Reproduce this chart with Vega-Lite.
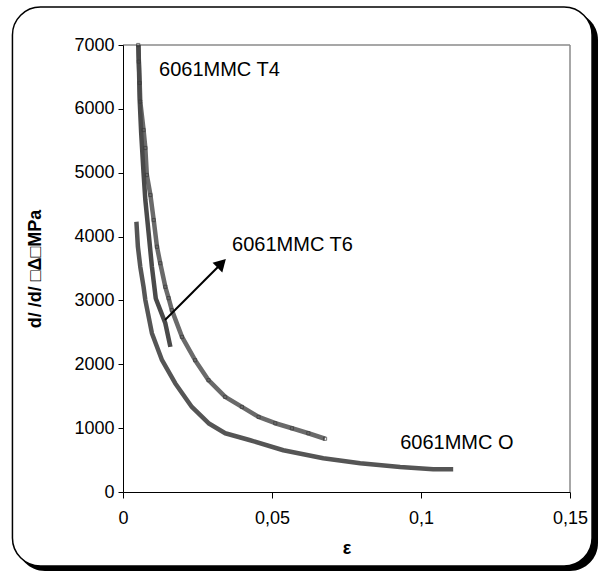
{
  "$schema": "https://vega.github.io/schema/vega-lite/v6.json",
  "width": 447,
  "height": 447,
  "autosize": "none",
  "padding": {"left": 123, "top": 45, "right": 32, "bottom": 80},
  "background": "white",
  "config": {
    "view": {"stroke": null},
    "axis": {
      "grid": false, "domainColor": "black", "tickColor": "black",
      "labelFont": "Liberation Sans", "labelFontSize": 18, "labelColor": "black",
      "titleFont": "Liberation Sans", "titleFontSize": 18, "titleFontWeight": "bold", "titleColor": "black"
    },
    "axisX": {"tickCount": 3, "tickSize": 6, "labelPadding": 11, "titlePadding": 12, "labelFlush": false, "labelExpr": "replace(toString(datum.value), '.', ',')"},
    "axisY": {"tickCount": 7, "tickSize": 5, "labelPadding": 4, "titlePadding": 29, "format": "d"}
  },
  "datasets": {
    "curves": [
      {"series": "6061MMC T4", "eps": 0.0051, "val": 7000},
      {"series": "6061MMC T4", "eps": 0.0053, "val": 6740},
      {"series": "6061MMC T4", "eps": 0.0056, "val": 6406},
      {"series": "6061MMC T4", "eps": 0.0058, "val": 6113},
      {"series": "6061MMC T4", "eps": 0.0069, "val": 5669},
      {"series": "6061MMC T4", "eps": 0.0075, "val": 5387},
      {"series": "6061MMC T4", "eps": 0.0080, "val": 4964},
      {"series": "6061MMC T4", "eps": 0.0092, "val": 4651},
      {"series": "6061MMC T4", "eps": 0.0103, "val": 4259},
      {"series": "6061MMC T4", "eps": 0.0114, "val": 3840},
      {"series": "6061MMC T4", "eps": 0.0125, "val": 3583},
      {"series": "6061MMC T4", "eps": 0.0142, "val": 3213},
      {"series": "6061MMC T4", "eps": 0.0153, "val": 3036},
      {"series": "6061MMC T4", "eps": 0.0164, "val": 2848},
      {"series": "6061MMC T4", "eps": 0.0198, "val": 2429},
      {"series": "6061MMC T4", "eps": 0.0242, "val": 2064},
      {"series": "6061MMC T4", "eps": 0.0287, "val": 1751},
      {"series": "6061MMC T4", "eps": 0.0343, "val": 1489},
      {"series": "6061MMC T4", "eps": 0.0399, "val": 1332},
      {"series": "6061MMC T4", "eps": 0.0455, "val": 1176},
      {"series": "6061MMC T4", "eps": 0.0511, "val": 1077},
      {"series": "6061MMC T4", "eps": 0.0567, "val": 998},
      {"series": "6061MMC T4", "eps": 0.0622, "val": 920},
      {"series": "6061MMC T4", "eps": 0.0678, "val": 834},
      {"series": "6061MMC T6", "eps": 0.0052, "val": 7000},
      {"series": "6061MMC T6", "eps": 0.0056, "val": 6140},
      {"series": "6061MMC T6", "eps": 0.0061, "val": 5622},
      {"series": "6061MMC T6", "eps": 0.0069, "val": 4995},
      {"series": "6061MMC T6", "eps": 0.0075, "val": 4572},
      {"series": "6061MMC T6", "eps": 0.0086, "val": 4055},
      {"series": "6061MMC T6", "eps": 0.0097, "val": 3527},
      {"series": "6061MMC T6", "eps": 0.0110, "val": 3030},
      {"series": "6061MMC T6", "eps": 0.0142, "val": 2644},
      {"series": "6061MMC T6", "eps": 0.0159, "val": 2273},
      {"series": "6061MMC O", "eps": 0.0045, "val": 4232},
      {"series": "6061MMC O", "eps": 0.0050, "val": 3840},
      {"series": "6061MMC O", "eps": 0.0058, "val": 3527},
      {"series": "6061MMC O", "eps": 0.0069, "val": 3213},
      {"series": "6061MMC O", "eps": 0.0075, "val": 3005},
      {"series": "6061MMC O", "eps": 0.0097, "val": 2487},
      {"series": "6061MMC O", "eps": 0.0131, "val": 2064},
      {"series": "6061MMC O", "eps": 0.0175, "val": 1704},
      {"series": "6061MMC O", "eps": 0.0231, "val": 1332},
      {"series": "6061MMC O", "eps": 0.0287, "val": 1077},
      {"series": "6061MMC O", "eps": 0.0343, "val": 920},
      {"series": "6061MMC O", "eps": 0.0427, "val": 810},
      {"series": "6061MMC O", "eps": 0.0538, "val": 654},
      {"series": "6061MMC O", "eps": 0.0672, "val": 528},
      {"series": "6061MMC O", "eps": 0.0796, "val": 450},
      {"series": "6061MMC O", "eps": 0.0930, "val": 392},
      {"series": "6061MMC O", "eps": 0.1041, "val": 356},
      {"series": "6061MMC O", "eps": 0.1108, "val": 356}
    ],
    "labels": [
      {"label": "6061MMC T4", "eps": 0.0121, "val": 6608},
      {"label": "6061MMC T6", "eps": 0.0366, "val": 3868},
      {"label": "6061MMC O", "eps": 0.093, "val": 767}
    ]
  },
  "layer": [
    {
      "data": {"values": [{}]},
      "mark": {"type": "rect", "fill": "black", "cornerRadius": 28},
      "encoding": {
        "x": {"datum": -0.0356, "type": "quantitative", "title": "ε", "scale": {"domain": [0, 0.15], "nice": false, "zero": false}, "axis": {"zindex": 1}},
        "x2": {"datum": 0.1594},
        "y": {"datum": 7517, "type": "quantitative", "title": "d/ /d/ □Δ□MPa", "scale": {"domain": [0, 7000], "nice": false, "zero": false}, "axis": {"zindex": 1}},
        "y2": {"datum": -1237}
      }
    },
    {
      "data": {"values": [{}]},
      "mark": {"type": "rect", "fill": "white", "stroke": "black", "strokeWidth": 1.5, "cornerRadius": 28},
      "encoding": {
        "x": {"datum": -0.0371, "type": "quantitative", "title": "ε", "axis": {"zindex": 1}},
        "x2": {"datum": 0.1574},
        "y": {"datum": 7595, "type": "quantitative", "title": "d/ /d/ □Δ□MPa", "axis": {"zindex": 1}},
        "y2": {"datum": -1159}
      }
    },
    {
      "data": {"values": [{}]},
      "mark": {"type": "rule", "color": "#8a8a8a", "strokeWidth": 1.5},
      "encoding": {
        "x": {"datum": 0, "type": "quantitative", "title": "ε", "axis": {"zindex": 1}},
        "x2": {"datum": 0.15},
        "y": {"datum": 7000, "type": "quantitative", "title": "d/ /d/ □Δ□MPa", "axis": {"zindex": 1}}
      }
    },
    {
      "data": {"values": [{}]},
      "mark": {"type": "rule", "color": "#8a8a8a", "strokeWidth": 1.5},
      "encoding": {
        "x": {"datum": 0.15, "type": "quantitative", "title": "ε", "axis": {"zindex": 1}},
        "y": {"datum": 0, "type": "quantitative", "title": "d/ /d/ □Δ□MPa", "axis": {"zindex": 1}},
        "y2": {"datum": 7000}
      }
    },
    {
      "data": {"name": "curves"},
      "mark": {"type": "line", "strokeWidth": 4.5, "strokeJoin": "round"},
      "encoding": {
        "x": {"field": "eps", "type": "quantitative", "title": "ε", "axis": {"zindex": 1}},
        "y": {"field": "val", "type": "quantitative", "title": "d/ /d/ □Δ□MPa", "axis": {"zindex": 1}},
        "detail": {"field": "series"},
        "color": {
          "field": "series", "type": "nominal", "legend": null,
          "scale": {"domain": ["6061MMC O", "6061MMC T4", "6061MMC T6"], "range": ["#555555", "#6a6a6a", "#4a4a4a"]}
        }
      }
    },
    {
      "data": {"name": "curves"},
      "transform": [{"filter": "datum.series == '6061MMC T4'"}],
      "mark": {"type": "point", "shape": "square", "filled": false, "size": 10, "stroke": "#3a3a3a", "strokeWidth": 1},
      "encoding": {
        "x": {"field": "eps", "type": "quantitative", "title": "ε", "axis": {"zindex": 1}},
        "y": {"field": "val", "type": "quantitative", "title": "d/ /d/ □Δ□MPa", "axis": {"zindex": 1}}
      }
    },
    {
      "data": {"values": [{}]},
      "mark": {"type": "rule", "color": "black", "strokeWidth": 2},
      "encoding": {
        "x": {"datum": 0.0141, "type": "quantitative", "title": "ε", "axis": {"zindex": 1}},
        "x2": {"datum": 0.0331},
        "y": {"datum": 2693, "type": "quantitative", "title": "d/ /d/ □Δ□MPa", "axis": {"zindex": 1}},
        "y2": {"datum": 3581}
      }
    },
    {
      "data": {"values": [{}]},
      "mark": {"type": "point", "shape": "triangle-up", "filled": true, "color": "black", "size": 190, "angle": 45, "opacity": 1},
      "encoding": {
        "x": {"datum": 0.0331, "type": "quantitative", "title": "ε", "axis": {"zindex": 1}},
        "y": {"datum": 3581, "type": "quantitative", "title": "d/ /d/ □Δ□MPa", "axis": {"zindex": 1}}
      }
    },
    {
      "data": {"name": "labels"},
      "mark": {"type": "text", "align": "left", "baseline": "middle", "font": "Liberation Sans", "fontSize": 20, "color": "black"},
      "encoding": {
        "x": {"field": "eps", "type": "quantitative", "title": "ε", "axis": {"zindex": 1}},
        "y": {"field": "val", "type": "quantitative", "title": "d/ /d/ □Δ□MPa", "axis": {"zindex": 1}},
        "text": {"field": "label"}
      }
    }
  ]
}
